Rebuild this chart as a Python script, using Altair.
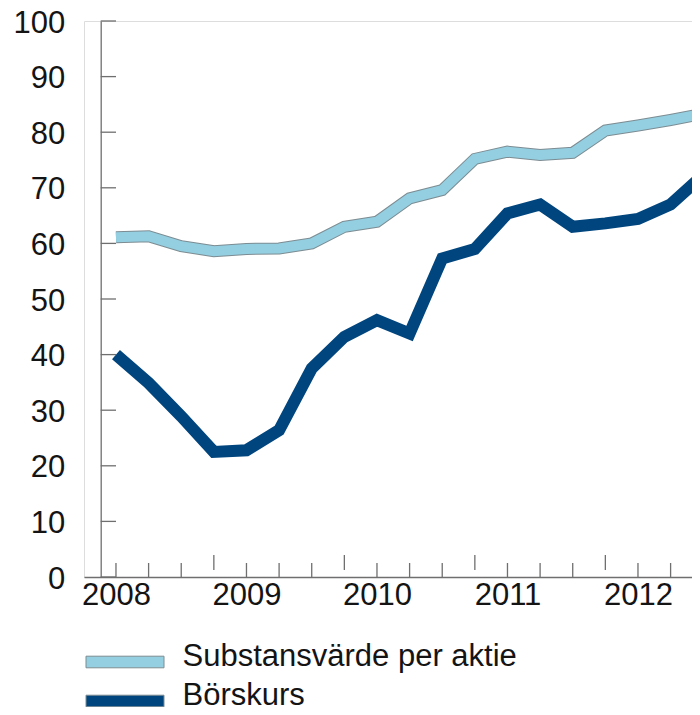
import altair as alt
import pandas as pd

# ---- data (quarterly) ----
quarters = [2008.0, 2008.25, 2008.5, 2008.75, 2009.0, 2009.25, 2009.5, 2009.75,
            2010.0, 2010.25, 2010.5, 2010.75, 2011.0, 2011.25, 2011.5, 2011.75,
            2012.0, 2012.25, 2012.5]
substansvarde = [61.1, 61.3, 59.5, 58.6, 59.0, 59.1, 60.0, 63.0, 63.9, 68.1,
                 69.6, 75.2, 76.5, 75.9, 76.3, 80.3, 81.2, 82.2, 83.3]
borskurs = [40.0, 34.9, 28.9, 22.5, 22.8, 26.4, 37.5, 43.2, 46.2, 43.8,
            57.3, 59.0, 65.4, 67.0, 63.0, 63.6, 64.4, 67.0, 72.3]

series_names = ["Substansvärde per aktie", "Börskurs"]
series_colors = ["#93cfe1", "#00457e"]

year_labels = [2008, 2009, 2010, 2011, 2012]
y_ticks = [0, 10, 20, 30, 40, 50, 60, 70, 80, 90, 100]
x_ticks = [2008.0, 2008.25, 2008.5, 2009.0, 2009.25, 2009.5, 2010.0, 2010.25,
           2010.5, 2011.0, 2011.25, 2011.5, 2012.0, 2012.25]
x_raised_ticks = [2008.75, 2009.75, 2010.75, 2011.75]

# ---- tables ----
df = pd.DataFrame({
    "x": quarters * 2,
    "v": substansvarde + borskurs,
    "series": [series_names[0]] * len(quarters) + [series_names[1]] * len(quarters),
})
light_df = df[df.series == series_names[0]]
dark_df = df[df.series == series_names[1]]
yt_df = pd.DataFrame({"v": y_ticks})
xt_df = pd.DataFrame({"t": x_ticks})
xr_df = pd.DataFrame({"t": x_raised_ticks})

W, H = 608, 556
FONT = "Liberation Sans"
AXIS_COLOR = "#6f6f6f"
TEXT_COLOR = "#141414"

xscale = alt.Scale(domain=[2007.755, 2012.414], nice=False, zero=False)
yscale = alt.Scale(domain=[0, 100], nice=False, zero=True)

xaxis = alt.Axis(values=year_labels, format="d", title=None, grid=False,
                 ticks=False, tickSize=0, domainColor=AXIS_COLOR, domainWidth=1.3,
                 labelFont=FONT, labelFontSize=31, labelColor=TEXT_COLOR,
                 labelPadding=3, labelFlush=False, labelOverlap=False)
yaxis = alt.Axis(values=y_ticks, title=None, grid=False, ticks=False, tickSize=0,
                 offset=-16.7, domainColor=AXIS_COLOR, domainWidth=1.3,
                 labelFont=FONT, labelFontSize=31, labelColor=TEXT_COLOR,
                 labelPadding=36, labelOffset=2, labelFlush=False, labelOverlap=False)

X = alt.X("x:Q", scale=xscale, axis=xaxis)
Y = alt.Y("v:Q", scale=yscale, axis=yaxis)

line_kw = dict(strokeJoin="miter", strokeCap="butt", clip=True)

light_outline = alt.Chart(light_df).mark_line(color="#7c8c92", strokeWidth=12, **line_kw).encode(x=X, y=Y)
light_line = alt.Chart(light_df).mark_line(color=series_colors[0], strokeWidth=10, **line_kw).encode(x=X, y=Y)
dark_line = alt.Chart(dark_df).mark_line(color=series_colors[1], strokeWidth=12, **line_kw).encode(x=X, y=Y)

y_tick_rules = alt.Chart(yt_df).mark_rule(color=AXIS_COLOR, strokeWidth=1.3).encode(
    y=Y, x=alt.value(16.7), x2=alt.value(32))
x_tick_rules = alt.Chart(xt_df).mark_rule(color=AXIS_COLOR, strokeWidth=1.3).encode(
    x=alt.X("t:Q", scale=xscale, axis=xaxis), y=alt.value(H - 14), y2=alt.value(H))
x_raised_rules = alt.Chart(xr_df).mark_rule(color=AXIS_COLOR, strokeWidth=1.3).encode(
    x=alt.X("t:Q", scale=xscale, axis=xaxis), y=alt.value(H - 22), y2=alt.value(H - 7))

legend_layer = alt.Chart(df).transform_filter("datum.v < -1000").mark_point(
    filled=True, shape="square").encode(
    x=X, y=Y,
    fill=alt.Fill("series:N",
                  scale=alt.Scale(domain=series_names, range=series_colors),
                  legend=alt.Legend(orient="none", legendX=2, legendY=620, title=None,
                                    symbolType="M-7.8,-0.06H7.8V2.26H-7.8Z", symbolSize=100,
                                    symbolStrokeColor="#7c8c92", symbolStrokeWidth=1,
                                    symbolOpacity=1, symbolOffset=23.5,
                                    labelFont=FONT, labelFontSize=31, labelColor=TEXT_COLOR,
                                    labelOffset=42, labelLimit=1000, rowPadding=7,
                                    padding=0)))

chart = alt.layer(
    light_outline, light_line, dark_line, y_tick_rules, x_tick_rules, x_raised_rules, legend_layer
).properties(
    width=W, height=H,
    padding={"left": 76, "top": 13, "right": 0, "bottom": 130},
    autosize=alt.AutoSizeParams(type="none"),
).configure_view(stroke=None).configure(background="white")

chart.save("out.html", embed_options={"renderer": "svg", "actions": False})
